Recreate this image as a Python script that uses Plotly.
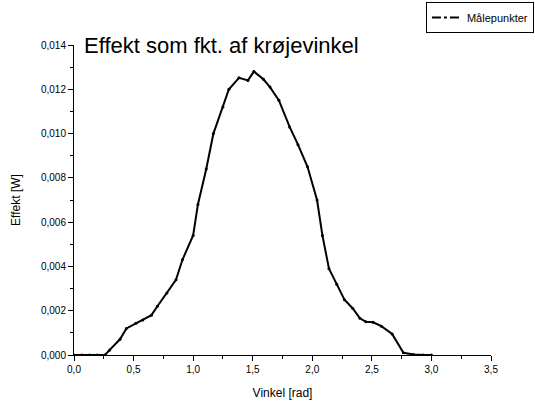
import plotly.graph_objects as go

vinkel = [0.0, 0.065, 0.13, 0.195, 0.26, 0.30, 0.386, 0.44, 0.52, 0.577, 0.65, 0.70, 0.78, 0.856,
          0.91, 1.0, 1.04, 1.11, 1.17, 1.25, 1.30, 1.385, 1.46, 1.51, 1.59, 1.645, 1.72, 1.81,
          1.88, 1.96, 2.04, 2.085, 2.14, 2.205, 2.27, 2.34, 2.40, 2.45, 2.51, 2.58, 2.67,
          2.765, 2.85, 2.93, 3.0]
effekt = [0.0, 0.0, 0.0, 0.0, 0.0, 0.00023, 0.00071, 0.0012, 0.00143, 0.00158, 0.0018, 0.0022,
          0.0028, 0.0034, 0.0043, 0.0054, 0.0068, 0.0084, 0.0100, 0.0112, 0.0120, 0.01252,
          0.0124, 0.0128, 0.01245, 0.0121, 0.0115, 0.0103, 0.0095, 0.0085, 0.0070, 0.0054,
          0.0039, 0.0032, 0.0025, 0.0021, 0.00166, 0.0015, 0.00148, 0.0013, 0.00095, 0.0001,
          0.00002, 0.0, 0.0]

font = "Liberation Sans, Arial, sans-serif"
fig = go.Figure()
fig.add_trace(go.Scatter(x=vinkel, y=effekt, mode="lines+markers",
                         line=dict(color="black", width=2),
                         marker=dict(color="black", size=3),
                         showlegend=False, hoverinfo="x+y"))
fig.add_trace(go.Scatter(x=[None], y=[None], mode="lines", name="Målepunkter",
                         line=dict(color="black", width=2, dash="dashdot")))

fig.update_layout(
    width=535, height=401,
    margin=dict(l=74, r=44, t=45, b=46, autoexpand=False),
    paper_bgcolor="white", plot_bgcolor="white",
    separators=",.",
    font=dict(family=font, color="black", size=10),
    legend=dict(xref="container", yref="container", x=0.998, xanchor="right",
                y=0.995, yanchor="top",
                bordercolor="black", borderwidth=1, bgcolor="white",
                font=dict(size=11, family=font, color="black"), itemwidth=30,
                tracegroupgap=0),
    xaxis=dict(range=[0, 3.5], dtick=0.5, tickformat=".1f", showgrid=False,
               zeroline=False, showline=True, linecolor="black", linewidth=1,
               ticks="outside", ticklen=5, tickcolor="black", automargin=False,
               minor=dict(dtick=0.25, ticks="outside", ticklen=3, tickcolor="black"),
               title=dict(text="Vinkel [rad]", font=dict(size=12, color="black"), standoff=14),
               tickfont=dict(size=10, color="black")),
    yaxis=dict(range=[0, 0.014], dtick=0.002, tickformat=".3f", showgrid=False,
               zeroline=False, showline=True, linecolor="black", linewidth=1,
               ticks="outside", ticklen=5, tickcolor="black", automargin=False,
               minor=dict(dtick=0.001, ticks="outside", ticklen=3, tickcolor="black"),
               title=dict(text="Effekt [W]", font=dict(size=12, color="black"), standoff=17),
               tickfont=dict(size=10, color="black")),
)
fig.add_annotation(text="Effekt som fkt. af krøjevinkel", xref="paper", yref="paper",
                   x=0.018, y=1.0, xanchor="left", yanchor="middle", showarrow=False,
                   font=dict(size=22, family=font, color="black"))
fig.write_html("out.html")
